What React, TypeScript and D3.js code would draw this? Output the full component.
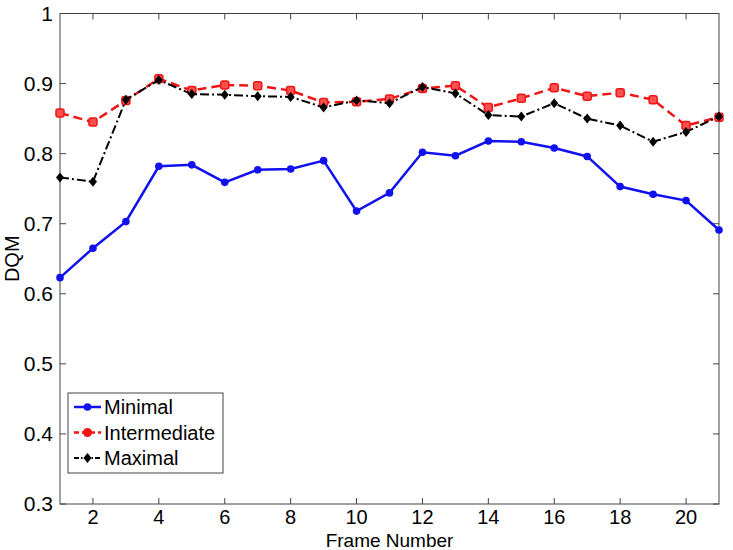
import React, { useEffect, useRef } from 'react';
import * as d3 from 'd3';

const frames = d3.range(1, 22);
const minimal = [0.623, 0.665, 0.703, 0.782, 0.784, 0.759, 0.777, 0.778, 0.790, 0.718, 0.744,
  0.802, 0.797, 0.818, 0.817, 0.808, 0.796, 0.753, 0.742, 0.733, 0.691];
const intermediate = [0.858, 0.845, 0.876, 0.907, 0.890, 0.898, 0.897, 0.890, 0.873, 0.874, 0.878,
  0.893, 0.897, 0.866, 0.879, 0.894, 0.882, 0.887, 0.877, 0.840, 0.852];
const maximal = [0.766, 0.760, 0.877, 0.905, 0.885, 0.884, 0.882, 0.881, 0.866, 0.876, 0.872,
  0.895, 0.886, 0.855, 0.853, 0.872, 0.850, 0.840, 0.817, 0.831, 0.853];
const xTicks = [2, 4, 6, 8, 10, 12, 14, 16, 18, 20];
const yTicks = [0.3, 0.4, 0.5, 0.6, 0.7, 0.8, 0.9, 1];

const series = [
  { name: 'Minimal', values: minimal, color: '#1010f0', dash: '', marker: 'circle', width: 2.5 },
  { name: 'Intermediate', values: intermediate, color: '#f01515', dash: '9,5', marker: 'square', width: 2.5 },
  { name: 'Maximal', values: maximal, color: '#000000', dash: '9,3,2,3', marker: 'diamond', width: 2 },
];

const App = () => {
  const ref = useRef<SVGSVGElement>(null);

  useEffect(() => {
    const W = 733;
    const H = 550;
    const margin = { top: 13.5, right: 14, bottom: 46, left: 60 };
    const width = W - margin.left - margin.right;
    const height = H - margin.top - margin.bottom;
    const font = 'Liberation Sans, Arial, sans-serif';

    const root = d3.select(ref.current);
    root.selectAll('*').remove();
    root.attr('width', W).attr('height', H).style('display', 'block').style('background', '#fff');

    const svg = root.append('g').attr('transform', `translate(${margin.left},${margin.top})`);

    const x = d3.scaleLinear().domain([1, 21]).range([0, width]);
    const y = d3.scaleLinear().domain([0.3, 1]).range([height, 0]);

    // box
    svg.append('rect')
      .attr('width', width).attr('height', height)
      .attr('fill', 'none').attr('stroke', '#444').attr('stroke-width', 1);

    // ticks (inward, on all sides)
    const tl = 6;
    xTicks.forEach(t => {
      svg.append('line').attr('x1', x(t)).attr('x2', x(t)).attr('y1', height).attr('y2', height - tl).attr('stroke', '#444');
      svg.append('line').attr('x1', x(t)).attr('x2', x(t)).attr('y1', 0).attr('y2', tl).attr('stroke', '#444');
      svg.append('text').attr('x', x(t)).attr('y', height + 20)
        .attr('text-anchor', 'middle').style('font-family', font).style('font-size', '20px').text(t);
    });
    yTicks.forEach(t => {
      svg.append('line').attr('x1', 0).attr('x2', tl).attr('y1', y(t)).attr('y2', y(t)).attr('stroke', '#444');
      svg.append('line').attr('x1', width).attr('x2', width - tl).attr('y1', y(t)).attr('y2', y(t)).attr('stroke', '#444');
      svg.append('text').attr('x', -7).attr('y', y(t)).attr('dy', '0.35em')
        .attr('text-anchor', 'end').style('font-family', font).style('font-size', '21px').text(d3.format('')(t));
    });

    svg.append('text').attr('x', width / 2).attr('y', height + 42.5)
      .attr('text-anchor', 'middle').style('font-family', font).style('font-size', '19px').text('Frame Number');
    svg.append('text').attr('transform', `translate(${-41},${height / 2}) rotate(-90)`)
      .attr('text-anchor', 'middle').style('font-family', font).style('font-size', '20px').text('DQM');

    const drawMarker = (g: d3.Selection<SVGGElement, unknown, null, undefined>, kind: string, cx: number, cy: number, color: string) => {
      if (kind === 'circle') {
        g.append('circle').attr('cx', cx).attr('cy', cy).attr('r', 3.8).attr('fill', color);
      } else if (kind === 'square') {
        g.append('rect').attr('x', cx - 4).attr('y', cy - 4).attr('width', 8).attr('height', 8).attr('rx', 2)
          .attr('fill', '#ff5050').attr('stroke', color).attr('stroke-width', 1.5);
      } else {
        g.append('path').attr('d', `M${cx},${cy - 5}L${cx + 4},${cy}L${cx},${cy + 5}L${cx - 4},${cy}Z`).attr('fill', color);
      }
    };

    series.forEach(s => {
      const line = d3.line<number>().x((_, i) => x(frames[i])).y(d => y(d));
      svg.append('path').datum(s.values)
        .attr('fill', 'none').attr('stroke', s.color).attr('stroke-width', s.width)
        .attr('stroke-dasharray', s.dash || null).attr('d', line);
      const g = svg.append('g');
      s.values.forEach((v, i) => drawMarker(g, s.marker, x(frames[i]), y(v), s.color));
    });

    // legend
    const lg = svg.append('g').attr('transform', `translate(${68 - margin.left},${393 - margin.top})`);
    lg.append('rect').attr('width', 155).attr('height', 80).attr('fill', '#fff').attr('stroke', '#444');
    series.forEach((s, i) => {
      const yy = 14 + i * 25.5;
      lg.append('line').attr('x1', 6).attr('x2', 33).attr('y1', yy).attr('y2', yy)
        .attr('stroke', s.color).attr('stroke-width', s.width).attr('stroke-dasharray', s.dash ? (i === 1 ? '5,3' : '5,2,1.5,2') : null);
      if (s.marker === 'square') {
        lg.append('circle').attr('cx', 19.5).attr('cy', yy).attr('r', 4.5).attr('fill', s.color);
      } else {
        drawMarker(lg as any, s.marker, 19.5, yy, s.color);
      }
      lg.append('text').attr('x', 36).attr('y', yy).attr('dy', '0.35em')
        .style('font-family', font).style('font-size', '20px').text(s.name);
    });
  }, []);

  return <svg ref={ref} style={{ position: 'absolute', left: 0, top: 0 }}></svg>;
};

export default App;
